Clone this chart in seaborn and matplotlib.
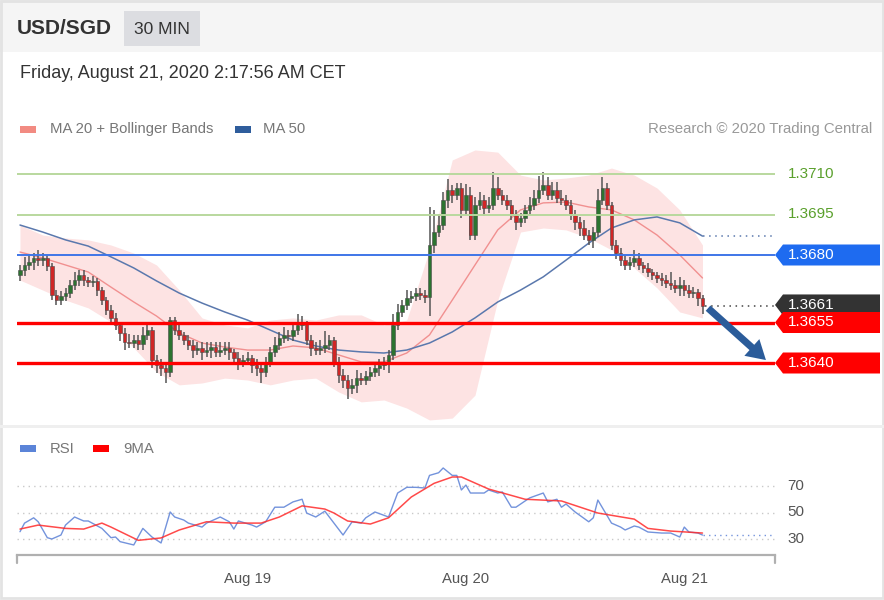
import numpy as np
import matplotlib
matplotlib.use("Agg")
import matplotlib.pyplot as plt
import matplotlib.transforms as mtransforms
from matplotlib.patches import Polygon, Rectangle
import seaborn as sns

# --- Data: 30 min candles, Aug 17 23:00 -> Aug 21 02:00 CET ---
open_first = 1.36725
close = [
    1.36744, 1.36763, 1.36774, 1.36789, 1.36781, 1.36789, 1.36759, 1.36652, 1.36633, 1.36648,
    1.36659, 1.36689, 1.36707, 1.36726, 1.36707, 1.36700, 1.36704, 1.36670, 1.36633, 1.36596,
    1.36567, 1.36541, 1.36511, 1.36478, 1.36474, 1.36485, 1.36470, 1.36504, 1.36522, 1.36411,
    1.36393, 1.36381, 1.36367, 1.36559, 1.36522, 1.36504, 1.36485, 1.36467, 1.36448, 1.36456,
    1.36441, 1.36448, 1.36459, 1.36441, 1.36448, 1.36456, 1.36441, 1.36419, 1.36404, 1.36411,
    1.36419, 1.36393, 1.36381, 1.36367, 1.36404, 1.36441, 1.36467, 1.36493, 1.36504, 1.36500,
    1.36522, 1.36541, 1.36544, 1.36485, 1.36456, 1.36448, 1.36456, 1.36467, 1.36485, 1.36404,
    1.36356, 1.36337, 1.36307, 1.36319, 1.36344, 1.36337, 1.36352, 1.36367, 1.36381, 1.36393,
    1.36404, 1.36430, 1.36541, 1.36589, 1.36615, 1.36641, 1.36648, 1.36659, 1.36652, 1.36644,
    1.36837, 1.36885, 1.36911, 1.37004, 1.37041, 1.37022, 1.37048, 1.36967, 1.37022, 1.36874,
    1.36985, 1.37004, 1.36974, 1.36985, 1.37048, 1.37022, 1.37004, 1.36985, 1.36948, 1.36922,
    1.36937, 1.36967, 1.36985, 1.37011, 1.37041, 1.37059, 1.37022, 1.37041, 1.37011, 1.37004,
    1.36985, 1.36948, 1.36922, 1.36900, 1.36874, 1.36856, 1.36885, 1.37004, 1.37048, 1.36985,
    1.36837, 1.36807, 1.36781, 1.36763, 1.36774, 1.36789, 1.36763, 1.36752, 1.36737, 1.36726,
    1.36715, 1.36707, 1.36696, 1.36689, 1.36678, 1.36689, 1.36670, 1.36659, 1.36663, 1.36641,
    1.36610,
]
# wick lengths beyond the body, in pips
wick_up = [
    2, 3, 3, 2, 3, 2, 1, 1, 2, 2,  2, 2, 3, 2, 2, 1, 2, 1, 1, 1,
    2, 2, 1, 2, 3, 2, 2, 3, 2, 1,  2, 2, 2, 1, 1, 2, 1, 2, 2, 2,
    2, 3, 2, 2, 3, 2, 2, 1, 2, 2,  2, 1, 2, 2, 2, 2, 3, 2, 3, 2,
    2, 4, 3, 1, 2, 2, 3, 5, 2, 1,  2, 2, 2, 2, 3, 2, 2, 2, 2, 2,
    2, 2, 4, 3, 2, 3, 2, 2, 2, 2,  14, 8, 4, 3, 4, 2, 2, 2, 4, 3,
    3, 3, 2, 3, 6, 4, 2, 2, 2, 2,  2, 2, 3, 3, 5, 5, 3, 3, 3, 3,
    2, 2, 2, 2, 3, 2, 2, 4, 4, 2,  1, 2, 2, 2, 2, 3, 2, 1, 2, 1,
    1, 2, 2, 4, 2, 3, 2, 2, 2, 1,  1,
]
wick_dn = [
    2, 2, 2, 3, 2, 2, 2, 2, 2, 2,  2, 2, 2, 2, 2, 2, 2, 2, 2, 2,
    2, 2, 3, 3, 2, 2, 2, 2, 2, 3,  3, 3, 4, 2, 2, 2, 2, 2, 3, 2,
    3, 2, 3, 2, 2, 2, 3, 2, 3, 2,  2, 3, 3, 4, 2, 2, 2, 2, 2, 2,
    2, 2, 2, 2, 3, 2, 2, 2, 2, 2,  3, 3, 4, 2, 3, 2, 2, 2, 2, 3,
    2, 4, 2, 2, 2, 2, 2, 2, 2, 2,  7, 3, 2, 2, 3, 3, 2, 3, 2, 2,
    2, 2, 3, 2, 2, 2, 2, 2, 2, 3,  2, 2, 2, 2, 2, 2, 2, 2, 2, 2,
    2, 2, 3, 3, 2, 2, 3, 2, 2, 2,  2, 2, 2, 2, 2, 2, 2, 2, 2, 2,
    2, 2, 2, 2, 2, 3, 2, 2, 2, 3,  3,
]

# indicators, read every 5 candles
ind_idx = list(range(0, 151, 5))
ma20 = [1.36811, 1.36789, 1.36763, 1.36737, 1.36681, 1.36626, 1.36574, 1.36511, 1.36474, 1.36459,
        1.36448, 1.36448, 1.36463, 1.36456, 1.36430, 1.36404, 1.36404, 1.36437, 1.36504, 1.36633,
        1.36763, 1.36893, 1.36967, 1.36993, 1.36996, 1.36978, 1.36967, 1.36930, 1.36874, 1.36800,
        1.36715]
ma50 = [1.36911, 1.36885, 1.36856, 1.36833, 1.36793, 1.36752, 1.36704, 1.36659, 1.36622, 1.36589,
        1.36559, 1.36522, 1.36485, 1.36463, 1.36448, 1.36441, 1.36437, 1.36448, 1.36474, 1.36515,
        1.36567, 1.36626, 1.36670, 1.36719, 1.36781, 1.36844, 1.36900, 1.36930, 1.36941, 1.36919,
        1.36870]
bb_upper = [1.36911, 1.36874, 1.36863, 1.36856, 1.36837, 1.36807, 1.36763, 1.36670, 1.36567, 1.36541,
            1.36530, 1.36559, 1.36567, 1.36559, 1.36578, 1.36578, 1.36541, 1.36559, 1.36819, 1.37152,
            1.37189, 1.37181, 1.37096, 1.37078, 1.37085, 1.37096, 1.37122, 1.37096, 1.37048, 1.36967,
            1.36837]
bb_lower = [1.36707, 1.36670, 1.36633, 1.36604, 1.36552, 1.36456, 1.36367, 1.36319, 1.36326, 1.36344,
            1.36337, 1.36319, 1.36337, 1.36344, 1.36293, 1.36256, 1.36263, 1.36233, 1.36189, 1.36196,
            1.36281, 1.36633, 1.36885, 1.36900, 1.36893, 1.36863, 1.36819, 1.36752, 1.36678, 1.36589,
            1.36567]

# RSI panel
rsi_idx = [0, 1, 3, 4, 6, 7, 9, 10, 12, 14, 15, 18, 20, 21, 22, 25, 27, 29, 31, 33,
           34, 36, 37, 40, 41, 44, 46, 47, 48, 51, 52, 54, 56, 58, 60, 62, 63, 65, 67, 69,
           71, 73, 75, 76, 78, 81, 83, 85, 87, 89, 90, 92, 93, 95, 96, 97, 98, 99, 102, 103,
           105, 106, 108, 109, 112, 115, 116, 118, 119, 120, 122, 125, 126, 127, 130, 132, 133, 135, 136, 138,
           141, 143, 145, 146, 147, 149, 150]
rsi = [35.5, 42, 46, 43, 31, 30, 33, 40.5, 46.6, 43.6, 43.6, 38, 31, 31.5, 28, 25.5, 38, 31.5, 27, 50.4,
       46.6, 44.3, 42, 39, 42, 46.6, 43, 37.5, 43.6, 40.5, 39, 43, 54, 54, 58, 60, 49.6, 46.6, 51, 42,
       33, 43, 42, 46, 50.4, 46.6, 64.7, 69, 69, 68.5, 78, 80, 83.6, 78, 78, 67, 70.7, 64.7, 64.7, 67,
       64.7, 65.5, 54, 54, 61, 64.7, 58, 60, 54, 56.4, 50.4, 43, 46, 59.4, 42, 39, 36.8, 39.8, 39, 35.3,
       34.5, 34.5, 31.5, 39, 35.3, 34.5, 33]
rsi_ma_idx = [0, 4, 10, 14, 18, 20, 26, 31, 35, 41, 47, 53, 57, 62, 67, 69, 72, 77, 81, 86,
              91, 95, 97, 103, 111, 119, 127, 135, 138, 143, 150]
rsi_ma = [37.5, 40.5, 38, 37.5, 42, 39, 29, 30.8, 36.8, 43, 42, 42, 46.6, 55, 52.6, 49.6, 43.6, 41.3, 46, 61.7,
          72, 76.8, 76.8, 67.7, 60, 58.7, 49.6, 45, 38, 36, 34.5]
rsi_levels = [70, 50, 30]

day_ticks = [50, 98, 146]
day_labels = ["Aug 19", "Aug 20", "Aug 21"]

resistances = [1.3710, 1.3695]
pivot = 1.3680
supports = [1.3655, 1.3640]
last_price = 1.3661
target = 1.3640

# --- Figure ---
W, H = 884, 600
sns.set_theme(style="white")
plt.rcParams['font.family'] = ['Liberation Sans', 'DejaVu Sans']

fig = plt.figure(figsize=(W / 100, H / 100), dpi=100)
fig.patch.set_facecolor('white')


def fx(x):
    return x / W


def fy(y):
    return 1 - y / H


# header band, frame, separator
fig.patches.append(Rectangle((0, fy(52)), 1, 52 / H, transform=fig.transFigure,
                             facecolor='#f5f5f5', edgecolor='none', zorder=0))
fig.patches.append(Rectangle((fx(124), fy(46)), 76 / W, 35 / H, transform=fig.transFigure,
                             facecolor='#dcdde1', edgecolor='none', zorder=1))
fig.patches.append(Rectangle((fx(1), fy(598)), 882 / W, 597 / H, transform=fig.transFigure,
                             fill=False, edgecolor='#e3e3e3', lw=2, zorder=1))
fig.patches.append(Rectangle((0, fy(428)), 1, 3 / H, transform=fig.transFigure,
                             facecolor='#efefef', edgecolor='none', zorder=1))

fig.text(fx(17), fy(29), "USD/SGD", fontsize=15, fontweight='bold', color='#333333', va='center')
fig.text(fx(162), fy(29), "30 MIN", fontsize=12.5, color='#333333', va='center', ha='center')
fig.text(fx(20), fy(73), "Friday, August 21, 2020 2:17:56 AM CET", fontsize=13, color='#333333', va='center')

# legends
fig.patches.append(Rectangle((fx(20), fy(133)), 16 / W, 7 / H, transform=fig.transFigure,
                             facecolor='#f28b82', edgecolor='none'))
fig.text(fx(50), fy(129), "MA 20 + Bollinger Bands", fontsize=10.7, color='#777777', va='center')
fig.patches.append(Rectangle((fx(235), fy(133)), 16 / W, 7 / H, transform=fig.transFigure,
                             facecolor='#2f5d9c', edgecolor='none'))
fig.text(fx(263), fy(129), "MA 50", fontsize=10.7, color='#777777', va='center')
fig.text(fx(872), fy(129), "Research \u00a9 2020 Trading Central", fontsize=10.8, color='#999999',
         va='center', ha='right')

fig.patches.append(Rectangle((fx(20), fy(452)), 16 / W, 7 / H, transform=fig.transFigure,
                             facecolor='#5b84d8', edgecolor='none'))
fig.text(fx(50), fy(449), "RSI", fontsize=10.7, color='#777777', va='center')
fig.patches.append(Rectangle((fx(93), fy(452)), 16 / W, 7 / H, transform=fig.transFigure,
                             facecolor='#ff0000', edgecolor='none'))
fig.text(fx(123), fy(449), "9MA", fontsize=10.7, color='#777777', va='center')

# --- Price panel ---
px_left, px_right = 17, 775
xlim = ((px_left - 20) / 4.55, (px_right - 20) / 4.55)
ax = fig.add_axes([fx(px_left), fy(425), (px_right - px_left) / W, (425 - 140) / H])
ax.set_xlim(*xlim)
ax.set_ylim(1.3640 - 62 / 27000, 1.3710 + 34 / 27000)
ax.axis('off')

idx = np.arange(len(close))
c = np.array(close)
o = np.r_[open_first, c[:-1]]
hi = np.maximum(o, c) + np.array(wick_up) * 1e-4
lo = np.minimum(o, c) - np.array(wick_dn) * 1e-4
up = c >= o

ax.fill_between(ind_idx, bb_lower, bb_upper, color='#fde3e3', lw=0, zorder=1)
sns.lineplot(x=ind_idx, y=ma20, ax=ax, color='#f19090', lw=1.0, zorder=2)
sns.lineplot(x=ind_idx, y=ma50, ax=ax, color='#5a78ad', lw=1.1, zorder=2)
ax.plot([ind_idx[-1], xlim[1]], [ma50[-1], ma50[-1]], ls=(0, (1, 3)), color='#5a78ad', lw=1.1, zorder=2)

ax.vlines(idx, lo, hi, color='#555555', lw=1.1, zorder=3)
ax.bar(idx, np.maximum(np.abs(c - o), 0.00004), bottom=np.minimum(o, c), width=0.78,
       color=np.where(up, '#2c7330', '#d02626'), edgecolor='#4a4a4a', lw=0.4, zorder=4)

for lvl in resistances:
    ax.axhline(lvl, color='#b9d89e', lw=1.4, zorder=5)
ax.axhline(pivot, color='#3f76e8', lw=1.4, zorder=5)
for lvl in supports:
    ax.axhline(lvl, color='#ff0000', lw=2.4, zorder=5)
ax.plot([idx[-1] + 0.5, xlim[1]], [last_price, last_price], ls=(0, (1, 3)), color='#444444', lw=1.1, zorder=5)

ax.annotate("", xy=((768 - 20) / 4.55, target + 0.00004), xytext=((706 - 20) / 4.55, last_price),
            arrowprops=dict(arrowstyle="simple,head_length=0.8,head_width=0.95,tail_width=0.3",
                            mutation_scale=17, color='#2b5c9a', lw=0), zorder=6)

trans = mtransforms.blended_transform_factory(fig.transFigure, ax.transData)
for lvl in resistances:
    ax.text(fx(788), lvl, f"{lvl:.4f}", transform=trans, color='#5aa02c', fontsize=11,
            va='center', clip_on=False)

half = 10.5 / 27000


def tag(price, label, color):
    pts = [(fx(775), price), (fx(783), price + half), (fx(880), price + half),
           (fx(880), price - half), (fx(783), price - half)]
    ax.add_patch(Polygon(pts, closed=True, transform=trans, facecolor=color, edgecolor='none',
                         clip_on=False, zorder=10))
    ax.text(fx(788), price, label, transform=trans, color='white', fontsize=11,
            va='center', clip_on=False, zorder=11)


tag(pivot, f"{pivot:.4f}", '#1e6bf0')
# the last-price tag sits a little above its level so the 1.3655 tag can overlap it
tag(last_price + 0.00005, f"{last_price:.4f}", '#333333')
for lvl in supports:
    tag(lvl, f"{lvl:.4f}", '#ff0000')

# --- RSI panel ---
ax2 = fig.add_axes([fx(px_left), fy(555), (px_right - px_left) / W, (555 - 460) / H])
ax2.set_xlim(*xlim)
ax2.set_ylim(30 - 16 / 1.325, 30 + 79 / 1.325)
for s in ['top', 'left', 'right']:
    ax2.spines[s].set_visible(False)
ax2.spines['bottom'].set_color('#b0b0b0')
ax2.spines['bottom'].set_linewidth(1.6)
ax2.set_yticks([])
ax2.set_xticks(day_ticks)
ax2.set_xticklabels(day_labels, fontsize=10.7, color='#555555')
ax2.tick_params(axis='x', length=0, pad=12)

tb = mtransforms.blended_transform_factory(ax2.transData, ax2.transAxes)
for xe in xlim:
    ax2.plot([xe, xe], [0, -0.08], transform=tb, color='#b0b0b0', lw=1.6, clip_on=False)

for lvl in rsi_levels:
    ax2.axhline(lvl, color='#c9c9c9', lw=1.0, ls=(0, (1, 3)), zorder=1)
    ax2.text(fx(787), lvl, str(lvl), transform=mtransforms.blended_transform_factory(fig.transFigure, ax2.transData),
             fontsize=11, color='#555555', va='center', clip_on=False)

sns.lineplot(x=rsi_idx, y=rsi, ax=ax2, color='#7393dc', lw=1.0, zorder=3)
sns.lineplot(x=rsi_ma_idx, y=rsi_ma, ax=ax2, color='#ff2a2a', lw=1.1, alpha=0.85, zorder=4)
ax2.plot([rsi_idx[-1], xlim[1]], [rsi[-1], rsi[-1]], ls=(0, (1, 3)), color='#7393dc', lw=1.0, zorder=3)
ax2.set_xlabel("")
ax2.set_ylabel("")

fig.savefig("out.png", dpi=100)
